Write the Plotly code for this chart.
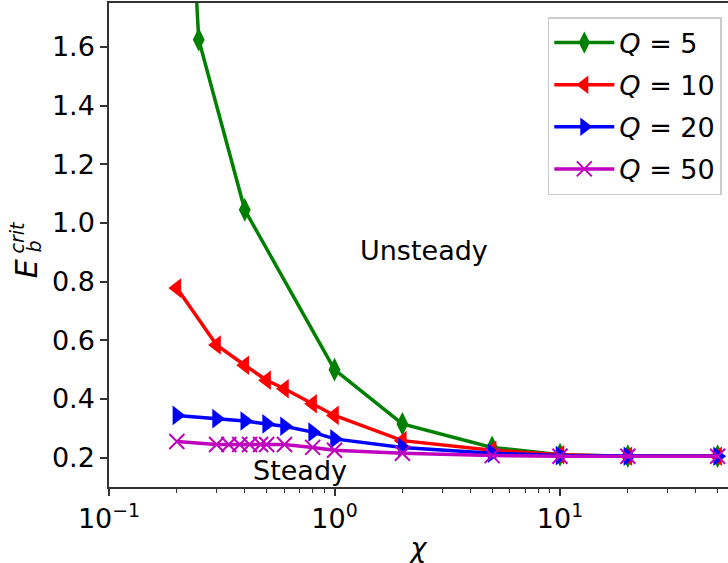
import plotly.graph_objects as go

# Data
chi_q5 = [0.2, 0.25, 0.4, 1, 2, 5, 10, 20, 50]
e_q5 = [3.0, 1.625, 1.045, 0.50, 0.315, 0.235, 0.21, 0.205, 0.205]

chi_q10 = [0.2, 0.3, 0.4, 0.5, 0.6, 0.8, 1, 2, 5, 10, 20, 50]
e_q10 = [0.778, 0.584, 0.515, 0.464, 0.435, 0.384, 0.344, 0.258, 0.225, 0.21, 0.205, 0.205]

chi_q20 = [0.2, 0.3, 0.4, 0.5, 0.6, 0.8, 1, 2, 5, 10, 20, 50]
e_q20 = [0.344, 0.333, 0.325, 0.315, 0.307, 0.287, 0.264, 0.235, 0.215, 0.207, 0.205, 0.205]

chi_q50 = [0.2, 0.3, 0.34, 0.38, 0.42, 0.47, 0.5, 0.6, 0.8, 1, 2, 5, 10, 20, 50]
e_q50 = [0.255, 0.245, 0.245, 0.245, 0.245, 0.245, 0.245, 0.245, 0.235, 0.225, 0.215, 0.207, 0.205, 0.205, 0.205]

names = ["<i>Q</i> = 5", "<i>Q</i> = 10", "<i>Q</i> = 20", "<i>Q</i> = 50"]
colors = ["#008000", "#ff0000", "#0000ff", "#bf00bf"]
symbols = ["diamond-tall", "triangle-left", "triangle-right", "x-thin"]
x_tick_vals = [0.1, 1, 10]
x_tick_text = ["10<sup>−1</sup>", "10<sup>0</sup>", "10<sup>1</sup>"]
y_tick_vals = [0.2, 0.4, 0.6, 0.8, 1.0, 1.2, 1.4, 1.6]
y_tick_text = ["0.2", "0.4", "0.6", "0.8", "1.0", "1.2", "1.4", "1.6"]

series = [(chi_q5, e_q5), (chi_q10, e_q10), (chi_q20, e_q20), (chi_q50, e_q50)]

FONT = "DejaVu Sans"
FS = 27
fig = go.Figure()
for i, ((xs, ys), name, col, sym) in enumerate(zip(series, names, colors, symbols)):
    marker = dict(symbol=sym, size=17, color=col)
    if sym == "x-thin":
        marker = dict(symbol=sym, size=15, color=col, line=dict(color=col, width=2))
    fig.add_trace(go.Scatter(x=xs, y=ys, mode="lines+markers", name=name,
                             legendgroup=f"g{i}",
                             line=dict(color=col, width=3.5), marker=marker))

fig.add_annotation(x=0.509, y=0.905, xref="x domain", yref="y", text="Unsteady",
                   showarrow=False, font=dict(size=FS, color="black", family=FONT),
                   xanchor="center", yanchor="middle")
fig.add_annotation(x=0.308, y=0.155, xref="x domain", yref="y", text="Steady",
                   showarrow=False, font=dict(size=FS, color="black", family=FONT),
                   xanchor="center", yanchor="middle")

# y-axis title built from stacked pieces (E, superscript crit, subscript b)
fig.add_annotation(x=0, y=0.450, xref="paper", yref="paper", xshift=-83,
                   text="<i>E</i>", textangle=-90, showarrow=False,
                   font=dict(size=30, family=FONT, color="black"),
                   xanchor="center", yanchor="middle")
fig.add_annotation(x=0, y=0.5155, xref="paper", yref="paper", xshift=-92,
                   text="<i>crit</i>", textangle=-90, showarrow=False,
                   font=dict(size=19, family=FONT, color="black"),
                   xanchor="center", yanchor="middle")
fig.add_annotation(x=0, y=0.497, xref="paper", yref="paper", xshift=-75,
                   text="<i>b</i>", textangle=-90, showarrow=False,
                   font=dict(size=19, family=FONT, color="black"),
                   xanchor="center", yanchor="middle")

fig.update_layout(
    width=728, height=563,
    margin=dict(l=109, r=0, t=3, b=76),
    plot_bgcolor="white", paper_bgcolor="white",
    font=dict(family=FONT, size=FS, color="black"),
    showlegend=True,
    legend=dict(x=0.99, y=0.971, xanchor="right", yanchor="top",
                bgcolor="white", bordercolor="#cccccc", borderwidth=1.5,
                font=dict(size=FS, family=FONT), itemwidth=60,
                tracegroupgap=4),
    xaxis=dict(type="log", range=[-1, 1.745],
               tickvals=x_tick_vals, ticktext=x_tick_text,
               ticks="outside", ticklen=7, tickwidth=1.5, tickcolor="#333",
               showline=True, linecolor="#333", linewidth=1.5, mirror=True,
               showgrid=False, zeroline=False,
               minor=dict(ticks="outside", ticklen=4, tickwidth=1.2, tickcolor="#333",
                          dtick="D1", showgrid=False),
               title=dict(text="<i>χ</i>", font=dict(size=FS, family=FONT), standoff=6)),
    yaxis=dict(range=[0.1, 1.75], tickvals=y_tick_vals, ticktext=y_tick_text,
               ticks="outside", ticklen=7, tickwidth=1.5, tickcolor="#333",
               showline=True, linecolor="#333", linewidth=1.5, mirror=False,
               showgrid=False, zeroline=False),
)

fig.write_html("out.html", config={"displayModeBar": False},
               post_script="document.body.style.margin='0';")
